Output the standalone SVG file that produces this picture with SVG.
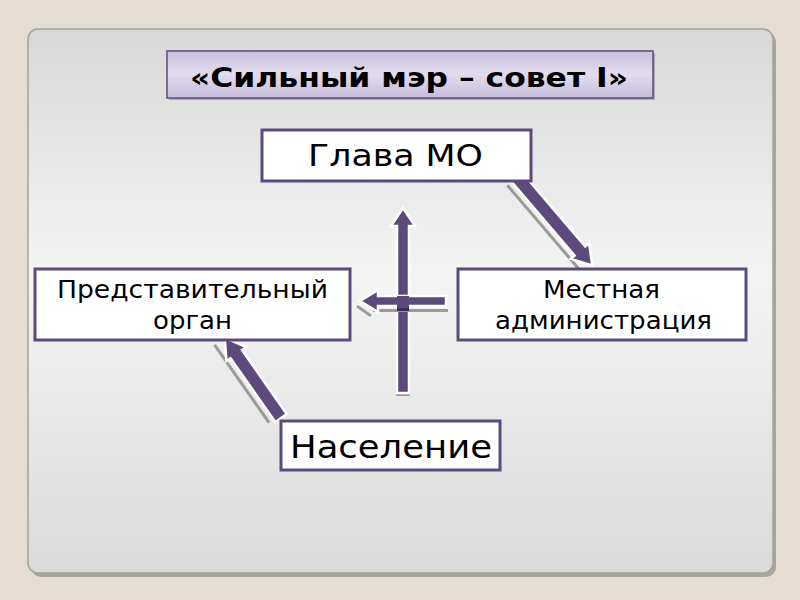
<svg xmlns="http://www.w3.org/2000/svg" width="800" height="600" viewBox="0 0 800 600">
<defs>
<linearGradient id="panel" x1="0" y1="0" x2="0" y2="1">
<stop offset="0" stop-color="#d8d8d8"/>
<stop offset="0.45" stop-color="#f4f4f4"/>
<stop offset="1" stop-color="#dadada"/>
</linearGradient>
<linearGradient id="title" x1="0" y1="0" x2="0" y2="1">
<stop offset="0" stop-color="#cbc1e0"/>
<stop offset="0.5" stop-color="#e2dcee"/>
<stop offset="1" stop-color="#c6bcdb"/>
</linearGradient>
<style>
.box{fill:#ffffff;stroke:#5c4a7c;stroke-width:3}
.t{font-family:"DejaVu Sans",sans-serif;fill:#000;text-anchor:middle}
.arr{fill:#5c4a7c;stroke:#ffffff;stroke-width:2.5;stroke-linejoin:miter}
.sh{fill:#9a9a9a}
</style>
</defs>
<rect width="800" height="600" fill="#e5ddd3"/>
<rect x="31" y="32" width="745" height="545" rx="10" fill="#a8a59c"/>
<rect x="28" y="29" width="745" height="544" rx="10" fill="url(#panel)" stroke="#a3a39a" stroke-width="1.5"/>

<g id="title-node">
<rect x="169" y="53" width="486" height="47" fill="#8c8a96" opacity="0.6"/>
<rect x="167" y="51" width="486" height="47" fill="url(#title)" stroke="#5c4a7c" stroke-width="1.5"/>
<text class="t" x="409" y="87" font-size="27" font-weight="bold" textLength="438" lengthAdjust="spacingAndGlyphs">«Сильный мэр – совет I»</text>
</g>

<g id="connectors">
<!-- Глава МО -> Местная администрация -->
<g transform="translate(515,175) rotate(49.5)">
<polygon class="sh" points="3,11 116,11 116,14 3,14"/>
<polygon class="arr" points="0,-7 100,-7 100,-12 119,0 100,12 100,7 0,7"/>
</g>
<!-- Население -> Представительный орган -->
<g transform="translate(281,418) rotate(235)">
<polygon class="sh" points="3,-14 98,-14 98,-11 3,-11"/>
<polygon class="arr" points="0,-7 78,-7 78,-12 98,0 78,12 78,7 0,7"/>
</g>
<!-- vertical up arrow -->
<polygon class="sh" points="396,392 410,392 410,396 396,396"/>
<polygon class="arr" points="397,393 397,226 391,226 403,208 415,226 409,226 409,393"/>
<!-- horizontal left arrow -->
<polygon class="sh" points="373,309 448,309 448,312 373,312"/>
<polygon class="sh" points="358,305 372,315 370,317 356,307"/>
<polygon class="arr" points="446,296 378,296 378,290 360,301 378,312 378,306 446,306"/>
<rect x="397" y="296" width="12" height="14" fill="#5c4a7c"/>
<rect x="397" y="308" width="12" height="3" fill="#3c2f55"/>
</g>

<g id="glava">
<rect class="box" x="262" y="130" width="269" height="51"/>
<text class="t" x="395.5" y="166" font-size="31" textLength="175" lengthAdjust="spacingAndGlyphs">Глава МО</text>
</g>
<g id="predstavitelny">
<rect class="box" x="35" y="269" width="315" height="71"/>
<text class="t" x="192.5" y="298" font-size="24" textLength="271" lengthAdjust="spacingAndGlyphs">Представительный</text>
<text class="t" x="192.5" y="329" font-size="24" textLength="79" lengthAdjust="spacingAndGlyphs">орган</text>
</g>
<g id="administratsiya">
<rect class="box" x="458" y="269" width="288" height="71"/>
<text class="t" x="601.5" y="298" font-size="24" textLength="117" lengthAdjust="spacingAndGlyphs">Местная</text>
<text class="t" x="603.5" y="329" font-size="24" textLength="217" lengthAdjust="spacingAndGlyphs">администрация</text>
</g>
<g id="naselenie">
<rect class="box" x="281" y="421" width="219" height="49"/>
<text class="t" x="391" y="458" font-size="32" textLength="202" lengthAdjust="spacingAndGlyphs">Население</text>
</g>
</svg>
